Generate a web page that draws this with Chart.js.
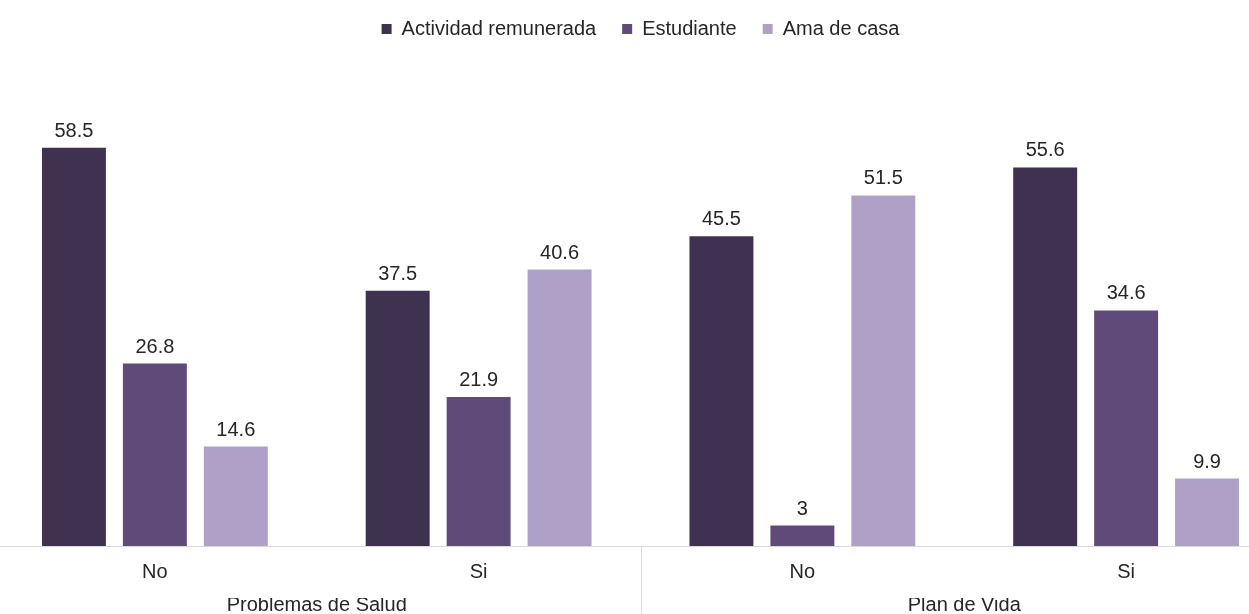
<!DOCTYPE html>
<html>
<head>
<meta charset="utf-8">
<script src="https://cdn.jsdelivr.net/npm/chart.js@4.4.0/dist/chart.umd.min.js"></script>
<style>
    html, body { margin: 0; padding: 0; background: #fff; overflow: hidden; }
    #wrap { position: absolute; left: -7px; top: 0; width: 1295px; height: 614px; }
</style>
</head>
<body>
<div id="wrap"><canvas id="grafico" width="1295" height="614"></canvas></div>
<script>
let categorias = ["No", "Si", "No", "Si"];
let grupos = ["Problemas de Salud", "Plan de Vida"];
let actividad = [58.5, 37.5, 45.5, 55.6];
let estudiante = [26.8, 21.9, 3, 34.6];
let amaCasa = [14.6, 40.6, 51.5, 9.9];

let fuente = "'Liberation Sans', Arial, sans-serif";

// valores encima de cada barra
let etiquetas = {
    id: "etiquetas",
    afterDatasetsDraw(chart) {
        let ctx = chart.ctx;
        ctx.save();
        ctx.font = "20px " + fuente;
        ctx.fillStyle = "#262626";
        ctx.textAlign = "center";
        ctx.textBaseline = "alphabetic";
        chart.data.datasets.forEach((ds, i) => {
            chart.getDatasetMeta(i).data.forEach((bar, j) => {
                ctx.fillText(ds.data[j], bar.x, bar.y - 11);
            });
        });
        ctx.restore();
    }
};

// linea que separa los dos grupos
let separador = {
    id: "separador",
    afterDraw(chart) {
        let x = chart.scales.x;
        let medio = (x.getPixelForValue(1) + x.getPixelForValue(2)) / 2;
        let ctx = chart.ctx;
        ctx.save();
        ctx.strokeStyle = "#d9d9d9";
        ctx.lineWidth = 1;
        ctx.beginPath();
        ctx.moveTo(Math.round(medio) + 0.5, chart.chartArea.bottom);
        ctx.lineTo(Math.round(medio) + 0.5, chart.height);
        ctx.stroke();
        ctx.restore();
    }
};

new Chart(document.getElementById("grafico"), {
    type: "bar",
    data: {
        labels: categorias,
        datasets: [
            { label: "Actividad remunerada", data: actividad, backgroundColor: "#3f3150" },
            { label: "Estudiante", data: estudiante, backgroundColor: "#5f4a7a" },
            { label: "Ama de casa", data: amaCasa, backgroundColor: "#afa0c7" }
        ]
    },
    options: {
        responsive: false,
        animation: false,
        categoryPercentage: 0.75,
        barPercentage: 0.79,
        layout: { padding: { top: -7, bottom: 2, left: 0, right: 0 } },
        plugins: {
            legend: {
                position: "top",
                labels: {
                    font: { family: fuente, size: 20 },
                    color: "#262626",
                    boxWidth: 10,
                    boxHeight: 10,
                    padding: 26
                }
            },
            tooltip: { enabled: false }
        },
        scales: {
            y: {
                display: false,
                min: 0,
                max: 73
            },
            x: {
                grid: { display: false, drawTicks: false },
                border: { display: true, color: "#d9d9d9", width: 1 },
                ticks: { font: { family: fuente, size: 20 }, color: "#262626", padding: 14 }
            },
            x2: {
                type: "category",
                labels: grupos,
                position: "bottom",
                grid: { display: false, drawTicks: false },
                border: { display: false },
                ticks: { font: { family: fuente, size: 20 }, color: "#262626", padding: -5 }
            }
        }
    },
    plugins: [etiquetas, separador]
});
</script>
</body>
</html>
